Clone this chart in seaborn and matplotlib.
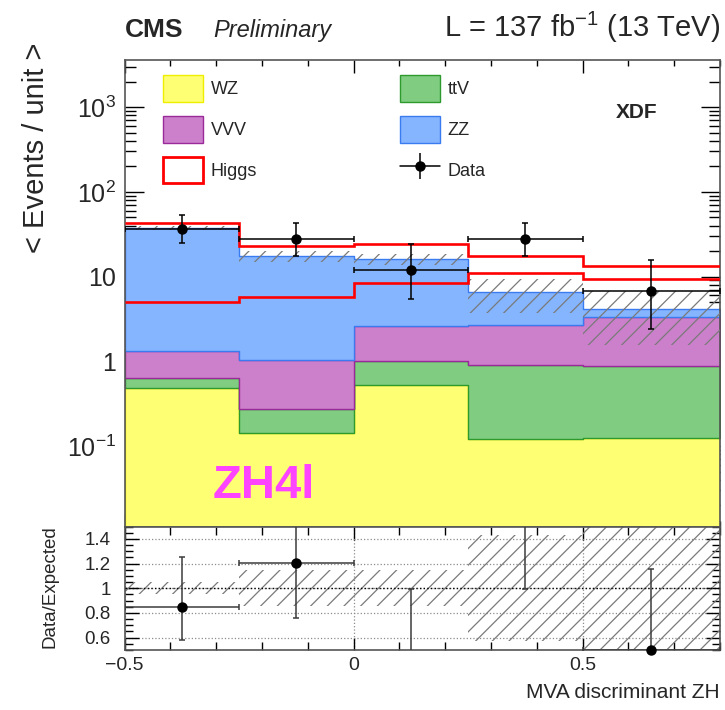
import numpy as np
import pandas as pd
import matplotlib
matplotlib.use("Agg")
import matplotlib.pyplot as plt
from matplotlib.patches import Patch
from matplotlib.lines import Line2D
from matplotlib.legend_handler import HandlerTuple
from matplotlib.ticker import MultipleLocator, FixedLocator, LogLocator, NullFormatter
import seaborn as sns

# ---- binned inputs (events per unit of the discriminant) ----
bin_edges = [-0.5, -0.25, 0.0, 0.25, 0.5, 0.8]
processes = ["WZ", "ttV", "VVV", "ZZ"]          # bottom to top of the stack
wz = [0.48, 0.143, 0.52, 0.121, 0.125]
ttv = [0.149, 0.130, 0.48, 0.79, 0.762]
vvv = [0.68, 0.757, 1.62, 1.78, 2.43]
zz = [36.2, 16.3, 13.3, 3.92, 0.82]
higgs = [5.0, 5.8, 8.4, 11.0, 9.3]
bkg_rel_unc = [0.05, 0.145, 0.145, 0.43, 0.62]
data = [36.0, 27.8, 12.0, 27.8, 6.73]
data_lo = [24.6, 17.5, 5.5, 17.5, 2.4]
data_hi = [53.4, 43.0, 24.2, 43.0, 15.5]

fill_colors = {"WZ": "#ffff73", "ttV": "#80cc80", "VVV": "#cc80cc", "ZZ": "#85b5ff"}
edge_colors = {"WZ": "#eeee00", "ttV": "#2e9a2e", "VVV": "#9a2a9a", "ZZ": "#3a7cf0"}

sns.set_theme(style="ticks")
plt.rcParams["font.family"] = ["Liberation Sans", "DejaVu Sans"]
plt.rcParams["mathtext.default"] = "regular"
plt.rcParams["hatch.linewidth"] = 0.9

edges = np.array(bin_edges)
centers = 0.5 * (edges[:-1] + edges[1:])
half = 0.5 * np.diff(edges)
comp = {"WZ": wz, "ttV": ttv, "VVV": vvv, "ZZ": zz}
stack_total = np.sum([np.array(comp[p]) for p in processes], axis=0)
higgs_arr = np.array(higgs)
expected = stack_total + higgs_arr
rel = np.array(bkg_rel_unc)
data_arr = np.array(data)
lo_arr = np.array(data_lo)
hi_arr = np.array(data_hi)

df = pd.DataFrame({
    "x": np.tile(centers, len(processes)),
    "w": np.concatenate([comp[p] for p in processes]),
    "process": np.repeat(processes, len(centers)),
})

fig = plt.figure(figsize=(7.25, 7.10), dpi=100)
ax = fig.add_axes([0.1719, 0.2583, 0.8212, 0.6572])
ax_r = fig.add_axes([0.1719, 0.0845, 0.8212, 0.1738], sharex=ax)

ax.set_yscale("log")
# seaborn puts the first hue level on top of the stack
sns.histplot(data=df, x="x", weights="w", hue="process", hue_order=processes[::-1],
             bins=bin_edges, multiple="stack", element="step", fill=True,
             palette=fill_colors, alpha=1.0, linewidth=1.0, legend=False, ax=ax)
# outline each stacked layer in its own darker tone
lut = {matplotlib.colors.to_hex(v): k for k, v in fill_colors.items()}
for coll in ax.collections:
    fc = coll.get_facecolor()
    if len(fc):
        key = lut.get(matplotlib.colors.to_hex(fc[0][:3]))
        if key:
            coll.set_edgecolor(edge_colors[key])
            coll.set_linewidth(1.0)

# background uncertainty band
ax.stairs(stack_total * (1 + rel), edges, baseline=stack_total * (1 - rel), fill=True,
          facecolor="none", edgecolor="#7a7a7a", hatch="//", linewidth=0, zorder=3)
# Higgs alone and stacked on the background
ax.stairs(higgs_arr, edges, baseline=None, color="red", linewidth=1.9, zorder=4)
ax.stairs(expected, edges, baseline=None, color="red", linewidth=1.9, zorder=4)

ax.errorbar(centers, data_arr, xerr=half, yerr=[data_arr - lo_arr, hi_arr - data_arr],
            fmt="o", color="black", ms=6.5, elinewidth=1.1, capsize=2, capthick=1.1,
            zorder=6)

ax.set_xlim(-0.5, 0.8)
ax.set_ylim(0.0112, 3600)
ax.set_xlabel("")
ax.set_ylabel("")
ax.yaxis.set_major_locator(FixedLocator([0.1, 1, 10, 100, 1000]))
ax.set_yticklabels([r"$10^{-1}$", "1", "10", r"$10^{2}$", r"$10^{3}$"])
ax.yaxis.set_minor_locator(LogLocator(base=10, subs=np.arange(2, 10)))
ax.yaxis.set_minor_formatter(NullFormatter())
ax.xaxis.set_major_locator(MultipleLocator(0.5))
ax.xaxis.set_minor_locator(MultipleLocator(0.1))
ax.tick_params(axis="both", which="both", direction="in", top=True, right=True,
               color="black", width=1.0)
ax.tick_params(axis="x", which="major", length=9.5, labelbottom=False)
ax.tick_params(axis="x", which="minor", length=4.5)
ax.tick_params(axis="y", which="major", length=14, labelsize=18, pad=6)
ax.tick_params(axis="y", which="minor", length=8)
for s in ax.spines.values():
    s.set_color("#555555")
    s.set_linewidth(1.2)

# data legend entry: marker with a full-width horizontal bar and a vertical bar
data_handle = (
    Line2D([], [], color="black", linewidth=1.1),
    Line2D([], [], color="black", marker="|", markersize=19, markeredgewidth=1.1, linestyle="none"),
    Line2D([], [], color="black", marker="o", markersize=6.5, linestyle="none"),
)
handles = [
    Patch(facecolor=fill_colors["WZ"], edgecolor=edge_colors["WZ"], linewidth=1),
    Patch(facecolor=fill_colors["VVV"], edgecolor=edge_colors["VVV"], linewidth=1),
    Patch(facecolor="white", edgecolor="red", linewidth=2),
    Patch(facecolor=fill_colors["ttV"], edgecolor=edge_colors["ttV"], linewidth=1),
    Patch(facecolor=fill_colors["ZZ"], edgecolor=edge_colors["ZZ"], linewidth=1),
    data_handle,
]
labels = ["WZ", "VVV", "Higgs", "ttV", "ZZ", "Data"]
fig.legend(handles, labels, ncol=2, loc="upper left",
           bbox_to_anchor=(163 / 725, 1 - 75 / 710), frameon=False,
           fontsize=13, handlelength=2.2, handleheight=1.9, handletextpad=0.45,
           labelspacing=0.78, columnspacing=7.9, borderpad=0, borderaxespad=0,
           handler_map={tuple: HandlerTuple(ndivide=1, pad=0)})

# ---- ratio panel ----
ratio = data_arr / expected
r_lo = lo_arr / expected
r_hi = hi_arr / expected
ax_r.stairs(1 + rel, edges, baseline=1 - rel, fill=True, facecolor="none",
            edgecolor="#7a7a7a", hatch="//", linewidth=0, zorder=2)
ax_r.axhline(1.0, color="black", linestyle=":", linewidth=1.0, zorder=3)
ax_r.grid(True, which="major", axis="both", linestyle=":", color="#8c8c8c", linewidth=0.9)
ax_r.errorbar(centers, ratio, yerr=[ratio - r_lo, r_hi - ratio], fmt="none",
              ecolor="#3c3c3c", elinewidth=1.1, capsize=2, capthick=1.1, zorder=4)
inside = (ratio >= 0.5) & (ratio <= 1.5)
ax_r.errorbar(centers[inside], ratio[inside], xerr=half[inside], fmt="none",
              ecolor="#3c3c3c", elinewidth=1.1, capsize=2, capthick=1.1, zorder=4)
ax_r.plot(centers[inside], ratio[inside], "o", color="black", ms=6.5, zorder=5, clip_on=False)
ax_r.set_ylim(0.5, 1.5)
ax_r.set_xlim(-0.5, 0.8)
ax_r.set_yticks([0.6, 0.8, 1.0, 1.2, 1.4])
ax_r.set_yticklabels(["0.6", "0.8", "1", "1.2", "1.4"])
ax_r.yaxis.set_minor_locator(MultipleLocator(0.05))
ax_r.xaxis.set_major_locator(MultipleLocator(0.5))
ax_r.xaxis.set_minor_locator(MultipleLocator(0.1))
ax_r.xaxis.set_major_formatter(matplotlib.ticker.FuncFormatter(
    lambda v, p: "0" if abs(v) < 1e-9 else f"{v:g}".replace("-", "\u2212")))
ax_r.tick_params(axis="both", which="both", direction="in", top=True, right=True,
                 color="black", width=1.0)
ax_r.tick_params(axis="x", which="major", length=9, labelsize=14, pad=5)
ax_r.tick_params(axis="x", which="minor", length=6)
ax_r.tick_params(axis="y", which="major", length=10, labelsize=13.5, pad=10)
ax_r.tick_params(axis="y", which="minor", length=5.5)
for s in ax_r.spines.values():
    s.set_color("#555555")
    s.set_linewidth(1.2)

# ---- labels and annotations ----
fig.text(125 / 725, 1 - 37 / 710, "CMS", fontsize=19, fontweight="bold", ha="left", va="baseline")
fig.text(213 / 725, 1 - 37 / 710, "Preliminary", fontsize=17, fontstyle="italic", ha="left", va="baseline")
fig.text(720 / 725, 1 - 37 / 710, r"L = 137 fb$^{-1}$ (13 TeV)", fontsize=21, ha="right", va="baseline")
fig.text(36 / 725, 1 - 43 / 710, "< Events / unit >", fontsize=21, rotation=90, ha="center", va="top")
fig.text(50 / 725, 1 - 587 / 710, "Data/Expected", fontsize=13.5, rotation=90, ha="center", va="center")
fig.text(720 / 725, 1 - 692 / 710, "MVA discriminant ZH", fontsize=15, ha="right", va="center")
fig.text(637 / 725, 1 - 113 / 710, "XDF", fontsize=15, fontweight="bold", ha="center", va="center")
fig.text(264 / 725, 1 - 486 / 710, "ZH4l", fontsize=34, fontweight="bold", color="#ff44ff",
         ha="center", va="center")

fig.savefig("out.png", dpi=100)
